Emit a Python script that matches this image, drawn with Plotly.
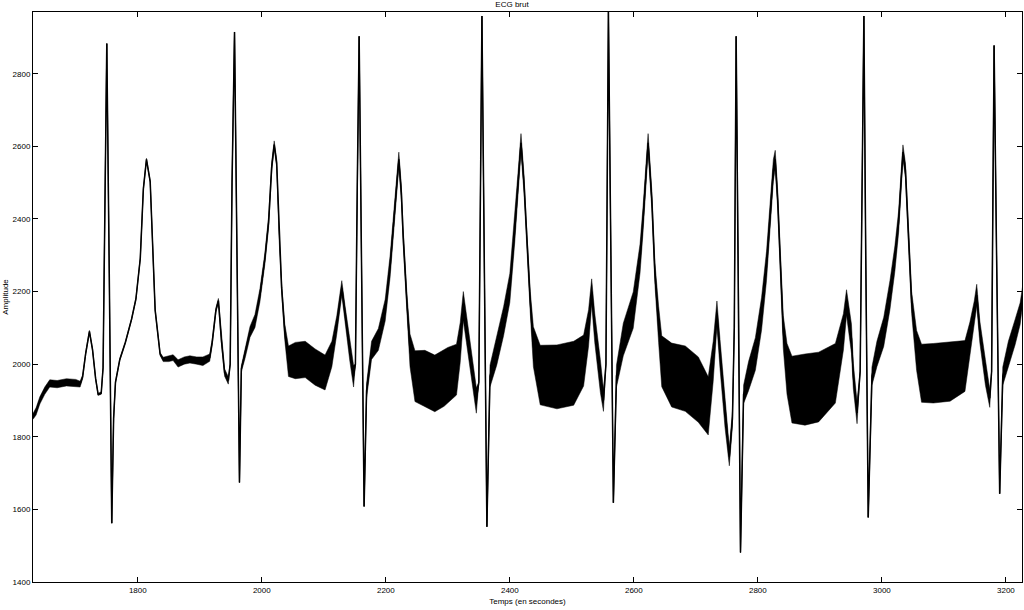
import plotly.graph_objects as go

# Time samples
t = [1631, 1636, 1642, 1650, 1658, 1670, 1685, 1700, 1707, 1711, 1716, 1722, 1727, 1732, 1736, 1741,
     1744, 1747, 1750, 1754, 1758, 1761, 1764, 1771, 1780, 1790, 1797, 1804, 1809, 1814, 1820, 1828,
     1836, 1841, 1850, 1857, 1865, 1875, 1884, 1895, 1905, 1916, 1920, 1926, 1930, 1935, 1940, 1946,
     1949, 1952, 1956, 1960, 1964,
     1967, 1973, 1981, 1989, 1997, 2005, 2011, 2016, 2020, 2024, 2028, 2032, 2037, 2043, 2054, 2070,
     2086, 2102, 2113, 2121, 2129, 2134, 2142, 2148, 2151, 2154, 2157, 2161, 2165, 2169, 2177, 2188,
     2199, 2207, 2214, 2218, 2221, 2225, 2228, 2234, 2239, 2247, 2263, 2279, 2294,
     2300, 2314, 2320, 2325, 2330, 2336, 2342, 2346, 2350, 2352, 2355, 2359, 2363, 2368, 2379, 2390,
     2400, 2408, 2414, 2418, 2423, 2427, 2433, 2438, 2449, 2476, 2503, 2519, 2527, 2532, 2537, 2546,
     2551, 2555, 2557, 2559, 2563, 2567, 2572, 2583, 2599, 2610, 2615, 2623,
     2629, 2634, 2640, 2645, 2661, 2683, 2704, 2720, 2728, 2734, 2739, 2747, 2754, 2759, 2762, 2765,
     2769, 2772, 2777, 2785, 2796, 2806, 2814, 2820, 2825, 2828, 2832, 2836, 2841, 2847, 2855, 2876,
     2898, 2925, 2938, 2943, 2951,
     2954, 2960, 2965, 2968, 2971, 2974, 2978, 2984, 2992, 3003, 3013, 3021, 3027, 3031, 3034, 3038,
     3043, 3048, 3056, 3064, 3083, 3110, 3134, 3142, 3149, 3153, 3158, 3167, 3174, 3177, 3179, 3181,
     3185, 3190, 3195, 3204, 3215, 3223, 3227]

# ECG amplitude (centre of trace)
ecg = [1856, 1870, 1900, 1927, 1947, 1945, 1950, 1948, 1945, 1965, 2030, 2090, 2040, 1960, 1917, 1920,
       1990, 2450, 2883, 2250, 1562, 1850, 1950, 2013, 2060, 2124, 2180, 2291, 2483, 2564, 2503, 2149,
       2028, 2013, 2015, 2018, 2002, 2010, 2013, 2010, 2008, 2018, 2060, 2149, 2175, 2063, 1977, 1955,
       2000, 2500, 2915, 2300, 1674,
       1987, 2028, 2089, 2119, 2190, 2291, 2392, 2544, 2605, 2554, 2352, 2210, 2089, 2008, 2010, 2013,
       1992, 1977, 2028, 2109, 2210, 2139, 2038, 1967, 2000, 2500, 2903, 2250, 1608, 1927, 2038, 2068,
       2149, 2271, 2412, 2483, 2564, 2473, 2352, 2170, 2038, 1967, 1960, 1947, 1962,
       1970, 1985, 2060, 2160, 2100, 2028, 1950, 1900, 1950, 2450, 2959, 2250, 1552, 1967, 2038, 2119,
       2210, 2372, 2514, 2610, 2494, 2352, 2170, 2048, 1970, 1965, 1975, 2010, 2100, 2200, 2099, 1967,
       1900, 2000, 2500, 2970, 2300, 1618, 1967, 2068, 2149, 2291, 2402, 2610,
       2453, 2250, 2109, 2008, 1970, 1960, 1930, 1885, 2008, 2139, 2028, 1866, 1745, 1850, 2100, 2903,
       2200, 1481, 1917, 1967, 2028, 2139, 2271, 2412, 2534, 2564, 2453, 2291, 2089, 1987, 1930, 1930,
       1937, 1975, 2089, 2170, 2070,
       1967, 1866, 1980, 2500, 2959, 2300, 1578, 1967, 2028, 2089, 2190, 2291, 2392, 2503, 2584, 2534,
       2352, 2170, 2038, 1975, 1975, 1980, 1995, 2068, 2139, 2190, 2089, 1977, 1906, 1980, 2500, 2878,
       2300, 1643, 1967, 2028, 2089, 2139, 2190]

# Half-amplitude of the high-frequency noise around the trace
noise = [8, 10, 10, 10, 10, 10, 10, 10, 8, 5, 4, 3, 3, 3, 3, 3,
         0, 0, 0, 0, 0, 0, 3, 3, 3, 3, 3, 3, 3, 3, 3, 3,
         4, 6, 8, 8, 10, 10, 10, 10, 12, 10, 8, 6, 6, 8, 10, 10,
         0, 0, 0, 0, 0,
         8, 12, 15, 18, 18, 15, 15, 12, 10, 10, 10, 12, 22, 42, 50, 50,
         50, 48, 35, 25, 20, 25, 30, 30, 0, 0, 0, 0, 0, 20, 25, 30,
         30, 30, 25, 25, 20, 20, 20, 25, 45, 70, 78, 78, 78,
         76, 70, 55, 40, 40, 40, 40, 35, 0, 0, 0, 0, 0, 30, 40, 40,
         40, 35, 30, 25, 25, 25, 30, 55, 82, 88, 88, 70, 50, 35, 40, 45,
         30, 0, 0, 0, 0, 0, 30, 45, 50, 40, 35, 25,
         25, 30, 50, 70, 88, 90, 90, 80, 55, 35, 40, 40, 25, 20, 0, 0,
         0, 0, 25, 40, 45, 45, 40, 35, 30, 25, 25, 30, 45, 70, 92, 98,
         96, 82, 50, 35, 40,
         35, 30, 0, 0, 0, 0, 0, 25, 35, 40, 40, 35, 30, 25, 20, 20,
         25, 30, 55, 80, 82, 82, 70, 48, 35, 30, 30, 35, 25, 0, 0, 0,
         0, 0, 25, 35, 35, 30, 25]

upper = [v + n for v, n in zip(ecg, noise)]
lower = [v - n for v, n in zip(ecg, noise)]

x_ticks = [1800, 2000, 2200, 2400, 2600, 2800, 3000, 3200]
y_ticks = [1400, 1600, 1800, 2000, 2200, 2400, 2600, 2800]

fig = go.Figure()
fig.add_trace(go.Scatter(x=t, y=lower, mode="lines", line=dict(width=0.5, color="black"),
                         showlegend=False, hoverinfo="skip"))
fig.add_trace(go.Scatter(x=t, y=upper, mode="lines", line=dict(width=0.5, color="black"),
                         fill="tonexty", fillcolor="black", showlegend=False, hoverinfo="skip"))
fig.add_trace(go.Scatter(x=t, y=ecg, mode="lines", line=dict(width=1.5, color="black"),
                         showlegend=False))

font = dict(family="Liberation Sans, Arial, sans-serif", size=8, color="black")

fig.update_layout(
    width=1024, height=610,
    margin=dict(l=33, r=2, t=12, b=28),
    paper_bgcolor="white", plot_bgcolor="white",
    font=font,
    title=dict(text="ECG brut", x=0.5, xanchor="center", y=0.998, yanchor="top",
               font=dict(family="Liberation Sans, Arial, sans-serif", size=8, color="black")),
    xaxis=dict(range=[1631, 3226], tickvals=x_ticks, ticktext=[str(v) for v in x_ticks],
               ticks="inside", ticklen=5, tickcolor="black", showline=True, linecolor="black",
               linewidth=1, mirror="ticks", showgrid=False, zeroline=False, automargin=False,
               title=dict(text="Temps (en secondes)", font=font, standoff=4)),
    yaxis=dict(range=[1400, 2970], tickvals=y_ticks, ticktext=[str(v) for v in y_ticks],
               ticks="inside", ticklen=5, tickcolor="black", showline=True, linecolor="black",
               linewidth=1, mirror="ticks", showgrid=False, zeroline=False, automargin=False,
               title=dict(text="Amplitude", font=font, standoff=2)),
)

fig.write_html("out.html", config={"displayModeBar": False},
               post_script="document.body.style.margin='0';document.body.style.overflow='hidden';")
